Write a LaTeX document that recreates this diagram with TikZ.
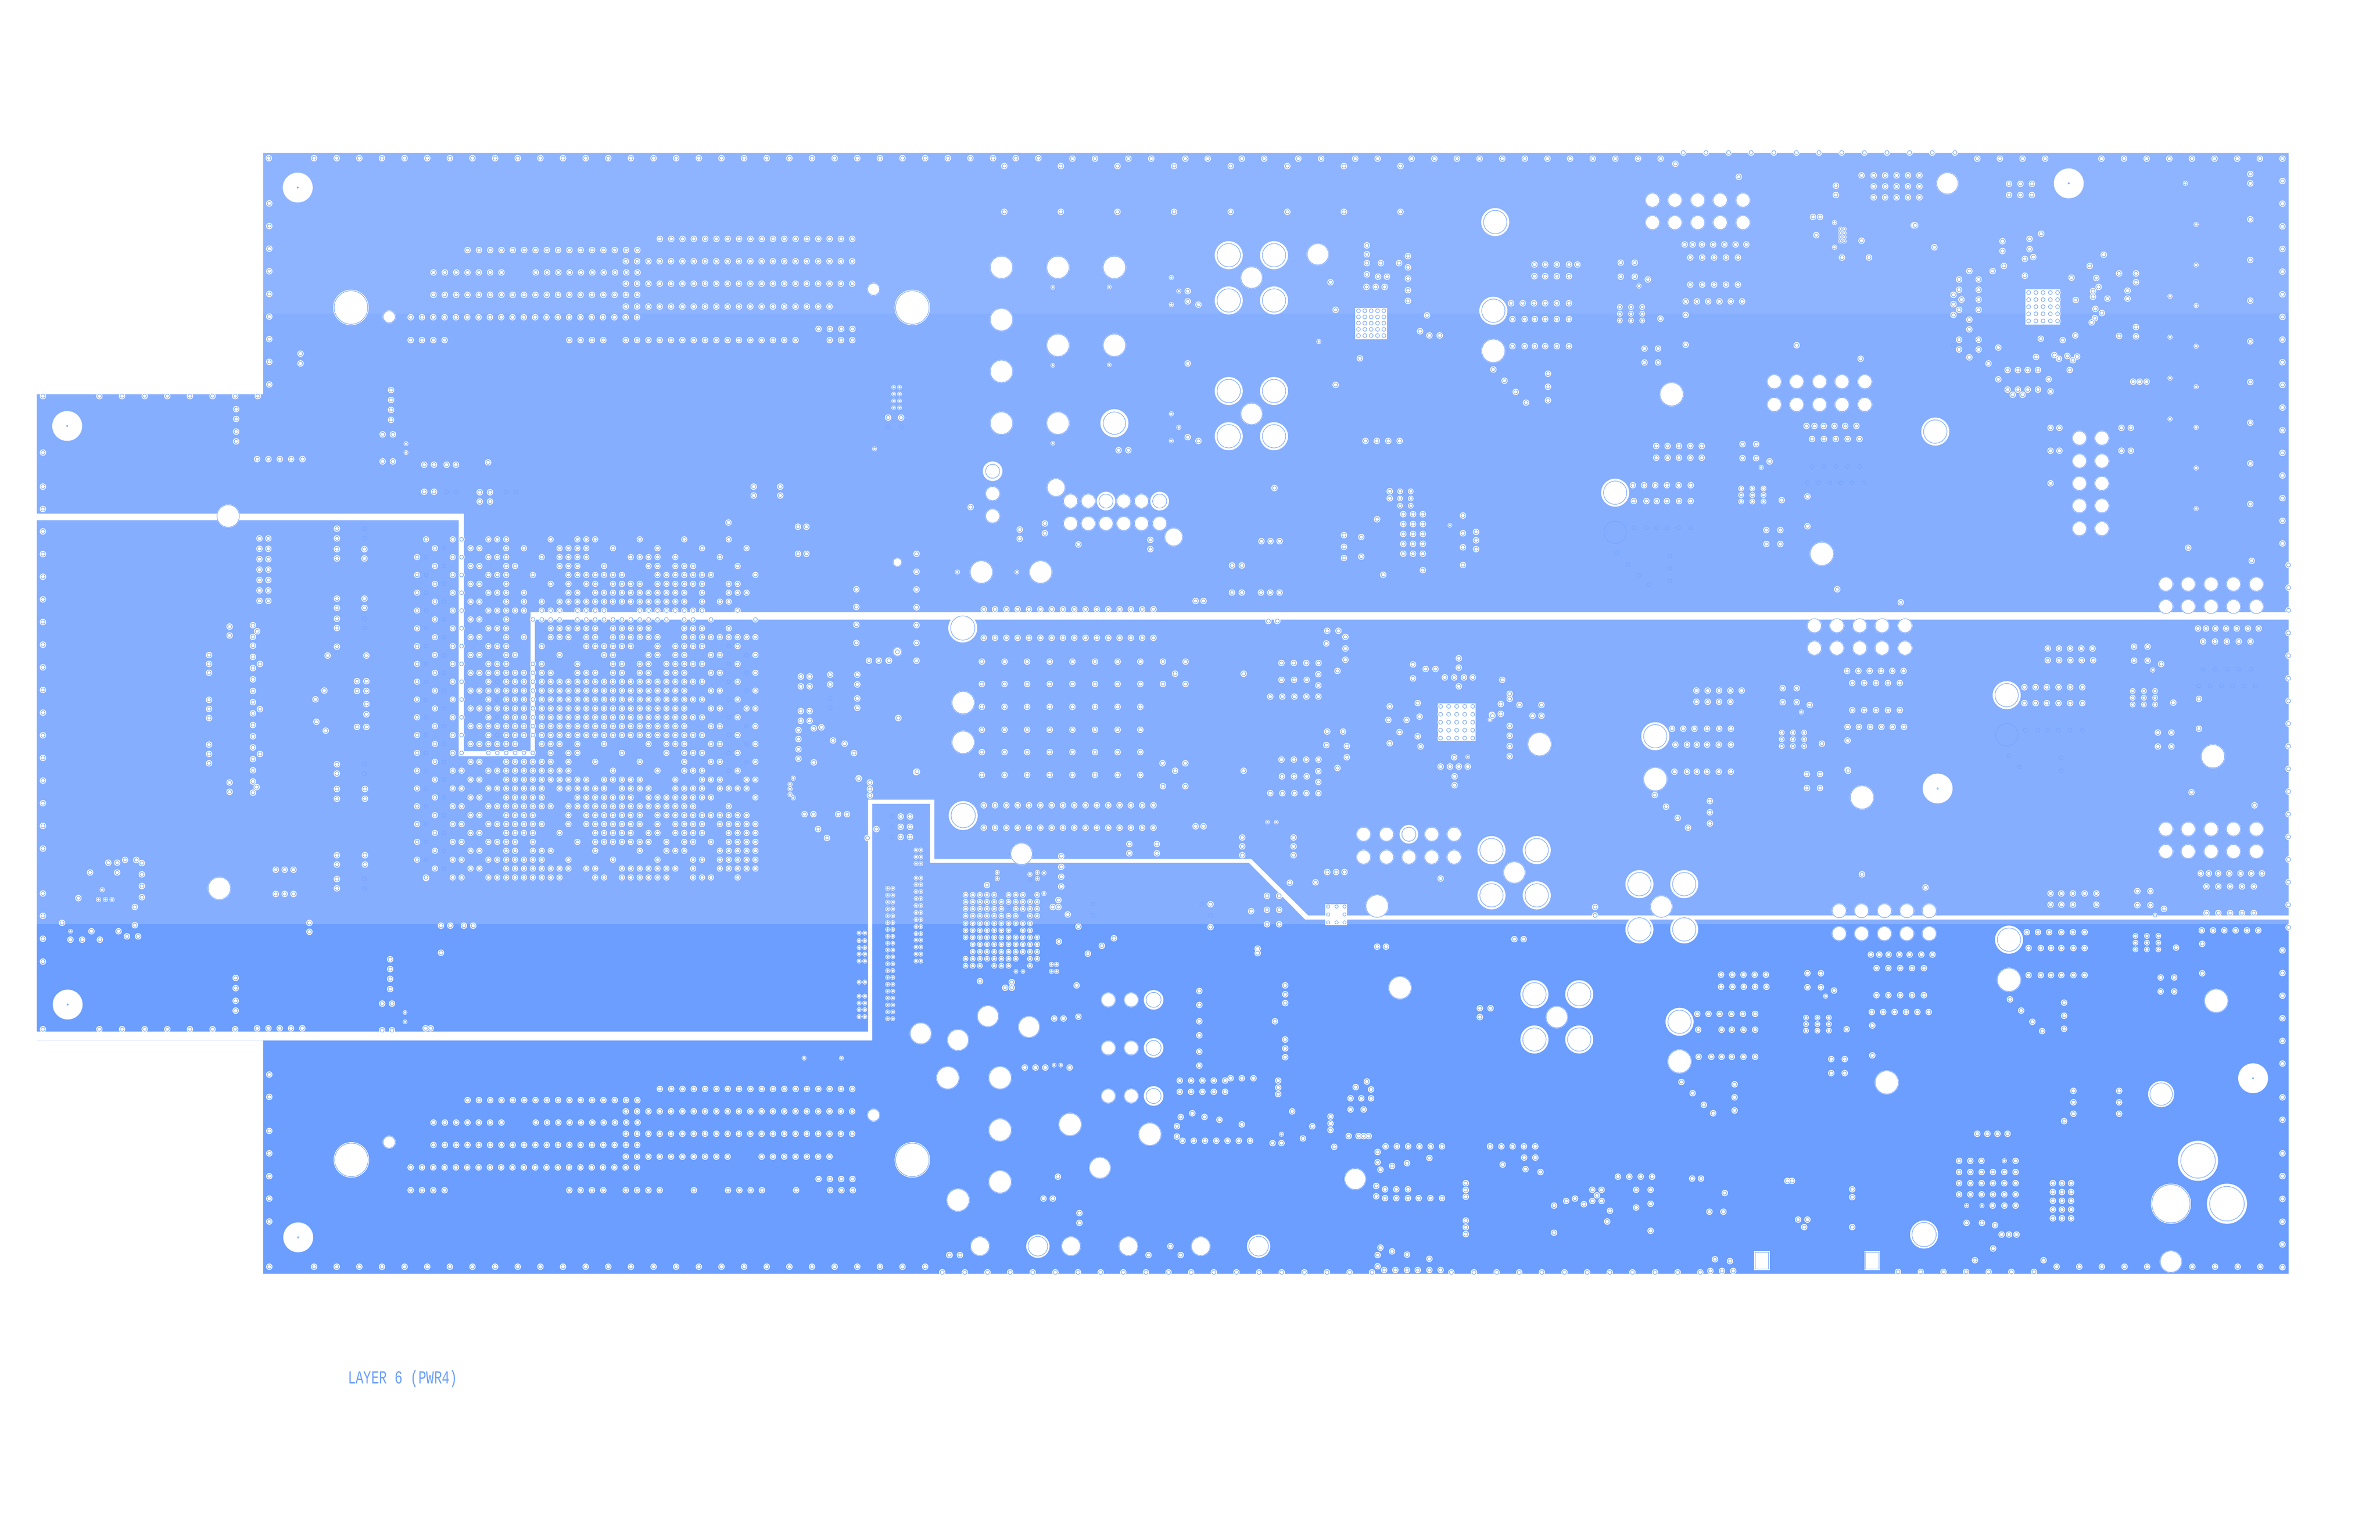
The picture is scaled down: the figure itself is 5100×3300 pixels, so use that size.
\documentclass[tikz,border=0pt]{standalone}
\usepackage{fontspec}
\newfontfamily\layerfont[FakeStretch=0.71]{Liberation Mono}
\definecolor{bandtop}{HTML}{8FB4FF}
\definecolor{bandmid}{HTML}{86AEFF}
\definecolor{bandlow}{HTML}{6B9EFF}
\definecolor{ringblue}{HTML}{6F9FFF}
\definecolor{ghostblue}{HTML}{74A3FF}
\tikzset{
  padwhite/.style={fill=white},
  padring/.style={draw=ringblue,line width=0.3pt},
  ghostring/.style={draw=ghostblue,line width=0.3pt},
  layerlabel/.style={text=bandlow,anchor=west,inner sep=0pt,font=\layerfont\fontsize{11.2}{12}\selectfont}
}
% one pad: outer radius, ring radius, point
\newcommand{\padat}[3]{\fill[padwhite] #3 circle (#1); \draw[padring] #3 circle (#2);}
\newcommand{\vias}[2][6.8]{\foreach \p in {#2} {\padat{#1}{#1*0.65}{\p}}}
\newcommand{\holes}[3]{\foreach \p in {#3} {\padat{#1}{#2}{\p}}}
\newcommand{\ghosts}[2][4.4]{\foreach \p in {#2} {\draw[ghostring] \p circle (#1);}}
% x0, y0, dx, dy, nx, ny
\newcommand{\viagrid}[7][6.8]{\foreach \kx in {1,...,#6} {\foreach \ky in {1,...,#7} {
  \padat{#1}{#1*0.65}{({#2+(\kx-1)*#4},{#3+(\ky-1)*#5})}}}}
\newcommand{\viarow}[5][6.8]{\viagrid[#1]{#2}{#3}{#4}{0}{#5}{1}}
\newcommand{\viacol}[5][6.8]{\viagrid[#1]{#2}{#3}{0}{#4}{1}{#5}}
\begin{document}
\begin{tikzpicture}[x=0.01cm,y=-0.01cm]
\useasboundingbox (0,0) rectangle (5100,3300);
\fill[white] (0,0) rectangle (5100,3300);

% copper bands
\fill[bandtop] (564,327) rectangle (4904,672);
\fill[bandmid] (564,672) -- (4904,672) -- (4904,1981) -- (79,1981) -- (79,845) -- (564,845) -- cycle;
\fill[bandlow] (79,1981) -- (4904,1981) -- (4904,2730) -- (564,2730) -- (564,2230) -- (79,2230) -- (79,2211) -- cycle;
\fill[white] (79,2211) rectangle (564,2230);

% splits
\fill[white] (79,1101) -- (994,1101) -- (994,1610) -- (1137,1610) -- (1137,1312) -- (4904,1312) -- (4904,1328)
  -- (1146,1328) -- (1146,1621) -- (983,1621) -- (983,1115) -- (79,1115) -- cycle;
\fill[white] (79,2211) -- (1860,2211) -- (1860,1714) -- (2002,1714) -- (2002,1841) -- (2681,1841) -- (2803,1962)
  -- (4904,1962) -- (4904,1971) -- (2797,1971) -- (2676,1849) -- (1993,1849) -- (1993,1723) -- (1869,1723)
  -- (1869,2230) -- (79,2230) -- cycle;

% edge stitching
\vias{(576,339)}
\viarow{673}{339}{48.5}{33}
\viarow{2298}{340}{48.5}{2}
\vias{(2418,340),(2467,340),(2540,340),(2588,340),(2661,340),(2709,340),(2782,340),(2831,340),(2904,340),(2952,340)}
\viarow{3025}{340}{48.5}{12}
\vias{(3590,351)}
\viarow{3607}{327}{48.5}{13}
\viarow{4237}{340}{48.5}{4}
\viarow{4503}{340}{48.5}{9}
\viacol{4891}{388}{48.55}{17}
\viacol{4904}{1211}{48.55}{17}
\viacol{4891}{2037}{48.5}{6}
\vias{(4891,2352),(4891,2400)}
\viacol{4891}{2472}{48.8}{6}
\viarow{4407}{2715}{48.5}{5}
\viarow{4698}{2715}{48.5}{4}
\viarow{4116}{2726}{48.5}{6}
\vias{(4067,2726)}
\viarow{3110}{2727}{48.5}{12}
\viarow{2019}{2727}{48.5}{19}
\vias{(2940,2727),(2952,2714),(2966,2722),(2990,2722),(3015,2722),(3038,2722),(3063,2722),(3087,2722)}
\vias{(3665,2724),(3690,2724),(3714,2724),(3675,2699),(3707,2703)}
\vias{(577,2715)}
\viarow{673}{2715}{48.5}{28}
\viacol{577}{436}{48.5}{9}
\vias{(577,2303),(577,2351),(577,2424),(577,2472),(577,2521),(577,2569),(577,2618),(2035,2690)}
\vias{(92,849)}
\viarow{213}{849}{48.5}{8}
\vias{(92,970),(92,1043),(92,1091)}
\viacol{92}{1139}{48.55}{15}
\vias{(92,1915),(92,1963),(92,2012),(92,2061),(92,2206)}
\viarow{213}{2206}{48.5}{7}
\viarow{551}{2204}{24.2}{5}
\vias{(819,2208),(840,2208),(912,2204),(923,2204)}

% mounting holes
\foreach \p in {(638,402),(144,913),(145,2153),(639,2652),(4433,393),(4828,2311),(4152,1690)} {
  \fill[white] \p circle (32); \draw[padring] \p circle (1.6);
}
\holes{38}{36}{(752,659),(1955,659),(753,2486),(1955,2486)}
\holes{14}{13}{(834,679),(1872,620),(834,2448),(1872,2390)}
\holes{25}{24}{(489,1106),(470,1904)}
\holes{10}{9}{(1923,1205),(1923,1397)}

% left connector rows, top and bottom
\foreach \dy in {0,1822} {
  \viarow{1414}{512+\dy}{24.25}{18}
  \viarow{1002}{536+\dy}{24.25}{16}
  \viarow{1341}{560+\dy}{24.25}{21}
  \viarow{929}{584+\dy}{24.25}{7}
  \viarow{1148}{584+\dy}{24.25}{10}
  \viarow{1341}{608+\dy}{24.25}{21}
  \viarow{929}{632+\dy}{24.25}{19}
  \viarow{880}{680+\dy}{24.25}{21}
  \viarow{1754}{705+\dy}{24.25}{4}
  \viarow{880}{729+\dy}{24.25}{4}
  \viarow{1220}{729+\dy}{24.25}{4}
}
\viarow{1341}{657}{24.25}{19}
\viarow{1341}{2479}{24.25}{10}
\viarow{1632}{2479}{24.25}{7}
\viarow{1341}{729}{24.25}{16}
\viarow{1778}{729}{24.25}{3}
\viarow{1341}{2551}{24.25}{4}
\vias{(1487,2551)}
\viarow{1560}{2551}{24.25}{4}
\vias{(1706,2551)}
\viarow{1779}{2551}{24.25}{3}
\vias[5.2]{(1723,2268),(1803,2268)}
\vias{(644,758),(644,779)}

% left side scatter
\viacol{838}{836}{21.3}{4}
\vias{(820,931),(842,931),(820,989),(842,989),(506,877),(506,898),(506,925),(506,946)}
\vias[5.2]{(870,951),(870,970)}
\viarow{551}{984}{24.3}{5}
\vias{(909,996),(930,996),(957,996),(977,996),(1046,991),(909,1054),(930,1054)}
\vias{(1028,1055),(1050,1055),(1028,1075),(1050,1075)}
\ghosts{(957,1054),(977,1054),(1084,1054),(1105,1054)}
\vias{(1615,1043),(1672,1043),(1615,1062),(1672,1062),(1561,1120),(1710,1129),(1728,1129),(1710,1187),(1728,1187)}
\viagrid[5]{1915}{830}{12.5}{14.7}{2}{4}
\vias{(1903,895),(1931,895)}
\ghosts{(1903,915),(1931,915)}
\vias[5.2]{(1874,962)}

\viacol{1964}{1187}{38.2}{7}
\vias{(1964,1654),(1835,1263),(1835,1301),(1835,1339),(1835,1378),(1862,1416),(1883,1416),(1904,1416),(1905,1416)}
\vias[5.2]{(2052,1226),(2051,1226),(2179,1226)}

\viagrid{556}{1154}{19}{22.3}{2}{7}
\viacol{448}{1404}{19}{3}
\viacol{448}{1500}{19.5}{3}
\viacol{448}{1596}{20}{3}
\vias{(492,1343),(492,1362),(542,1340),(551,1353),(542,1365),(542,1384),(542,1408),(557,1423),(542,1432)}
\vias{(542,1456),(542,1481),(542,1505),(557,1520),(542,1529),(542,1554),(542,1578),(542,1602),(557,1616),(542,1627)}
\vias{(542,1651),(542,1675),(550,1687),(542,1699),(492,1677),(492,1697)}
\vias{(722,1133),(722,1154),(722,1177),(722,1197),(781,1177),(781,1197),(722,1283),(722,1303),(781,1283),(781,1303)}
\vias{(722,1326),(722,1346),(722,1386),(702,1405),(785,1405),(765,1460),(785,1460),(695,1480),(765,1481),(785,1481)}
\vias{(676,1499),(785,1509),(785,1531),(678,1547),(698,1566),(765,1558),(785,1558)}
\vias{(722,1638),(722,1658),(722,1691),(782,1691),(722,1712),(782,1712),(722,1833),(782,1833),(722,1853),(782,1853),(722,1884),(722,1904)}
\ghosts{(781,1133),(781,1154),(781,1326),(781,1346),(781,1638),(781,1658),(781,1884),(781,1904)}
\vias{(591,1864),(610,1864),(629,1864),(591,1916),(610,1916),(629,1916),(663,1978),(663,1997)}
\vias{(945,1984),(965,1984),(994,1984),(1014,1984),(913,1882),(945,2042)}
\vias{(232,1849),(251,1849),(268,1843),(292,1843),(304,1850),(193,1870),(251,1870),(304,1874),(304,1899),(304,1923)}
\vias[5.5]{(219,1907),(211,1928),(226,1928),(240,1928)}
\vias{(168,1925),(289,1944),(289,1983),(133,1978),(196,1996),(254,1996),(272,2007),(296,2007),(151,2014),(176,2014),(214,2014)}
\vias[5]{(151,1996)}
\vias{(505,2096),(505,2118),(505,2145),(505,2166),(836,2056),(836,2077),(836,2098),(836,2120),(819,2151),(840,2151)}
\vias[5]{(868,2170),(868,2190)}

% big pinfield
\foreach \j in {2,4,...,36} {
  \foreach \i in {0,4,5} {\padat{6.5}{4.2}{({893.8+19.08*\i},{1156+19.07*\j})}}
  \draw[ghostring] ({893.8+19.08},{1156+19.07*\j}) circle (4.2);
}
\foreach \j in {1,3,...,37} {
  \foreach \i in {2,6,7} {\padat{6.5}{4.2}{({893.8+19.08*\i},{1156+19.07*\j})}}
  \draw[ghostring] ({893.8+19.08*3},{1156+19.07*\j}) circle (4.2);
}
\foreach \j in {0,38} {
  \foreach \i in {1,4,5} {\padat{6.5}{4.2}{({893.8+19.08*\i},{1156+19.07*\j})}}
}
\foreach \j/\i in {12/35,14/35,16/35,18/35,20/35,22/35,24/35,26/35,13/37,15/37,17/37,21/37,23/37,25/37,16/9,18/9,20/9,22/9} {
  \draw[ghostring] ({893.8+19.08*\i},{1156+19.07*\j}) circle (4.2);
}
\foreach \j/\segs in {
  0/{8/10,15/15,18/20,25/25,30/30,35/35},
  1/{10/10,12/12,16/19,22/22,27/27,32/32,37/37},
  2/{8/10,14/14,16/19,24/27,29/29,34/34},
  3/{10/11,16/18,21/21,26/27,29/31,36/36},
  4/{8/10,13/13,17/23,27/33,38/38},
  5/{10/10,15/15,17/17,19/20,22/25,27/32,35/36},
  6/{8/10,12/12,17/18,20/30,32/32,35/37},
  7/{10/10,12/12,14/14,16/30,32/32,34/35},
  8/{8/12,14/16,18/21,25/32,36/36},
  9/{10/10,13/16,18/28,30/31,33/33,38/38},
  10/{8/10,15/20,22/26,30/32,35/35},
  11/{10/10,12/12,15/17,19/20,22/27,30/38},
  12/{8/10,14/14,19/24,27/27,29/32,36/36},
  13/{10/11,16/16,21/22,26/27,29/30,33/34,38/38},
  14/{8/10,13/14,18/18,22/23,25/26,28/32,36/36},
  15/{8/15,18/20,22/23,25/26,28/30,33/34,38/38},
  16/{8/8,10/32,36/36},
  17/{8/30,33/34,38/38},
  18/{8/8,10/32,36/36},
  19/{8/30,33/34,37/38},
  20/{8/8,10/32,36/36},
  21/{8/30,33/34,38/38},
  22/{8/8,10/32,36/36},
  23/{8/11,14/16,18/18,21/21,26/26,28/30,33/34,38/38},
  24/{8/13,15/15,17/18,23/23,28/28,30/32,36/36},
  25/{10/15,17/17,20/20,25/25,30/30,33/34,38/38},
  26/{8/17,22/22,27/27,30/32,36/36},
  27/{10/19,21/25,29/29,32/34,37/38},
  28/{8/14,16/21,23/26,29/32,34/37},
  29/{10/14,18/24,26/33,38/38},
  30/{8/15,17/31,35/35},
  31/{10/13,17/17,19/25,27/37},
  32/{8/14,17/17,19/25,27/27,29/32,34/38},
  33/{10/13,16/16,20/24,26/27,29/32,35/38},
  34/{8/11,13/13,18/18,20/26,28/28,30/31,33/33,35/38},
  35/{10/11,13/15,20/20,25/25,28/30,34/38},
  36/{8/14,17/17,22/22,27/27,31/32,34/38},
  37/{10/17,19/20,23/29,31/31,34/38},
  38/{8/16,20/21,23/28,31/33,36/36}} {
  \foreach \ia/\ib in \segs {
    \foreach \i in {\ia,...,\ib} {\padat{6.5}{4.2}{({893.8+19.08*\i},{1156+19.07*\j})}}
  }
}

% right of pinfield
\vias{(1716,1450),(1735,1450),(1716,1471),(1735,1471),(1779,1446),(1837,1446),(1779,1467),(1837,1467),(1837,1497),(1837,1517)}
\ghosts{(1779,1497),(1779,1517)}
\vias{(1716,1524),(1735,1524),(1716,1545),(1735,1545),(1744,1561),(1760,1559),(1711,1565),(1711,1584),(1711,1606),(1711,1626)}
\vias{(1785,1587),(1810,1594),(1830,1614),(1744,1634),(1925,1539),(1724,1745),(1743,1745),(1796,1745),(1815,1745),(1753,1777),(1772,1796),(1840,1668)}
\vias[5.5]{(1700,1668),(1693,1681),(1693,1691),(1693,1703),(1700,1710)}
\vias{(1840,1669),(1864,1677),(1864,1691),(1864,1705),(1878,1777),(1859,1796),(1963,1655),(1965,1654)}
\viagrid{1930}{1750}{20}{22}{2}{3}
\ghosts{(1911,1750),(1911,1772),(1911,1794)}

% columns beside the split
\foreach \y in {1822,1837,1851,1882,1896,1911,1926,1941,1956,1971,1986,2001,2015,2030,2045,2060} {
  \viarow[5.2]{1963}{\y}{10}{2}
}
\viagrid[5.2]{1902}{1904}{11}{14.7}{2}{20}
\foreach \y in {2000,2016,2031,2045,2060,2105,2135,2150,2164,2179} {
  \viarow[5.2]{1841}{\y}{12}{2}
}

% power pads, top middle
\holes{25}{24}{(2146,573),(2267,573),(2388,573),(2146,685),(2146,796),(2146,907),(2267,740),(2388,740),(2267,907)}
\holes{30}{24}{(2388,907)}
\vias[5]{(2256,616),(2377,615),(2256,783),(2377,782),(2256,950)}
\holes{30}{25}{(2633,547),(2730,547),(2633,644),(2730,644),(2633,838),(2730,838),(2633,935),(2730,935)}
\holes{24}{23}{(2682,595),(2682,887),(2824,545)}
\vias[5.5]{(2510,595),(2526,624),(2510,653),(2510,887),(2526,916),(2510,945)}
\vias{(2545,624),(2545,646),(2568,653),(2545,937),(2568,945),(2397,965),(2418,965)}
\vias{(2851,605),(2862,664),(2914,768),(2545,779),(2862,825)}
\vias[5.5]{(2826,732)}
\viarow{2152}{356}{121.3}{8}
\viarow{2152}{454}{121.3}{8}
\vias{(2929,526),(2929,545),(2929,564),(2959,564),(2998,564),(3017,549),(3017,573),(3017,597),(3017,622),(3017,645)}
\vias{(2929,588),(2953,593),(2972,593),(2928,615),(2948,615),(2967,615)}
\fill[white] (2904,660) rectangle (2972,727);
\viagrid[6.5]{2911}{666}{13.6}{13.3}{5}{5}
\vias{(3058,676),(3043,710),(3063,719),(3085,719),(2731,1046)}
\viarow{2926}{945}{24.4}{4}
\viagrid[6]{3000}{1053}{23}{15.5}{2}{3}
\vias{(2978,1053),(2978,1068)}
\viagrid{3007}{1102}{21}{21.2}{3}{5}
\vias{(2951,1113),(3135,1105),(3135,1143),(3135,1173),(3163,1140),(3163,1158),(3163,1177),(3135,1211),(3049,1222),(2964,1232)}
\vias[5]{(3107,1126)}
\vias{(2880,1147),(2880,1172),(2880,1196),(2917,1151),(2917,1193)}
\viarow{2703}{1160}{19.5}{3}
\vias{(2640,1212),(2661,1212),(2640,1270),(2661,1270),(2702,1270),(2722,1270),(2742,1270),(2562,1288),(2579,1288)}
\vias{(2185,1135),(2185,1155),(2239,1122),(2239,1143),(2311,1167),(2465,1157),(2465,1177),(2080,1087)}
\holes{21}{15}{(2127,1010)}
\holes{16}{15}{(2127,1058),(2127,1106)}
\holes{20}{19}{(2263,1045),(2515,1151)}
\holes{16}{15}{(2294,1074),(2332,1074),(2408,1074),(2446,1074),(2294,1122),(2332,1122),(2370,1122),(2408,1122),(2446,1122),(2485,1122)}
\holes{20}{15}{(2370,1074),(2485,1074)}
\holes{25}{24}{(2103,1226),(2230,1226)}
\holes{31}{26}{(2063,1346),(2064,1748)}
\viarow{2108}{1306}{24.25}{16}
\viarow{2108}{1367}{24.25}{16}
\vias{(2718,1331),(2737,1331),(2844,1352),(2868,1352),(2883,1365),(2883,1390),(2883,1414),(2842,1379),(2866,1438)}
\viarow{2104}{1418}{48.5}{10}
\viarow{2104}{1466}{48.5}{10}
\viarow{2104}{1515}{48.5}{8}
\viarow{2104}{1564}{48.5}{8}
\viarow{2104}{1612}{48.5}{8}
\viarow{2104}{1661}{48.5}{8}
\vias{(2518,1444),(2491,1636),(2540,1636),(2518,1652),(2665,1444),(2665,1652)}
\holes{25}{24}{(2064,1506),(2064,1591)}
\vias{(1925,1539),(1923,1397),(1905,1416)}
\viarow{2746}{1421}{26.5}{4}
\vias{(2825,1445),(2746,1457),(2773,1457),(2800,1457),(2825,1469)}
\viarow{2722}{1493}{25.8}{5}
\vias{(2844,1568),(2878,1568),(2842,1597),(2886,1599),(2886,1623),(2866,1646)}
\viarow{2746}{1628}{26.5}{4}
\vias{(2825,1653),(2747,1664),(2773,1664),(2800,1664),(2825,1676)}
\viarow{2722}{1700}{25.8}{5}

% first hub
\vias{(2978,1514),(3038,1507),(2975,1543),(3014,1543),(3042,1536),(2999,1569),(3038,1578),(2978,1593),(3044,1600)}
\fill[white] (3081,1508) rectangle (3162,1588);
\viagrid[6.5]{3087}{1514}{17.2}{17}{5}{5}
\vias{(3028,1424),(3028,1454),(3055,1434),(3076,1434),(3126,1411),(3126,1431),(3126,1471),(3096,1452),(3116,1452),(3137,1452),(3156,1452)}
\vias{(3116,1623),(3087,1643),(3107,1643),(3126,1643),(3145,1643),(3197,1532)}
\vias[5]{(3145,1622),(3193,1543)}
\vias{(3117,1664),(3117,1683)}

% top row of modules
\holes{30}{25}{(3204,476),(3200,666)}
\holes{26}{25}{(3200,752)}
\vias{(3238,650),(3263,650),(3287,650),(3311,650),(3336,650),(3362,650)}
\foreach \y in {684,742} {\vias{(3241,\y),(3267,\y),(3289,\y),(3311,\y),(3336,\y),(3362,\y)}}
\vias{(3288,567),(3311,567),(3336,567),(3362,567),(3380,567),(3288,592),(3311,592),(3336,592),(3362,592)}
\vias{(3200,792),(3224,816),(3248,840),(3270,863),(3317,801),(3317,829),(3317,858)}
\vias{(3473,563),(3503,563),(3473,593),(3503,593),(3531,599)}
\vias[5.5]{(3512,613)}
\viagrid[6]{3471}{658}{24}{14.5}{3}{3}
\vias{(3558,683),(3726,379)}
\foreach \y in {429,477} {\holes{16}{15}{(3541,\y),(3589,\y),(3638,\y),(3686,\y),(3735,\y)}}
\vias{(3610,524),(3627,524),(3647,524),(3671,524),(3695,524),(3719,524),(3742,524)}
\viarow{3622}{552}{25.5}{5}
\viarow{3622}{610}{25.5}{5}
\viarow{3612}{646}{24.2}{6}
\vias{(3612,675),(3612,739),(3524,747),(3553,747),(3524,777),(3553,777)}
\holes{26}{25}{(3582,845),(3904,1187),(3299,1595),(4742,1621),(4749,2145)}
\vias{(3934,398),(3934,418),(3885,465),(3900,465),(3892,504),(3947,552),(4005,552),(3989,516),(4101,483),(4145,530),(3989,376)}
\vias[5.5]{(3931,477),(3931,530)}
\viagrid[5]{3944}{491}{8}{8.7}{2}{4}
\viagrid{4015}{376}{24.5}{23.5}{5}{3}
\holes{24}{23}{(4173,393)}
\viagrid{4305}{394}{24.5}{24}{3}{2}
\vias[5.5]{(4683,393)}
\viacol{4822}{373}{20}{2}
\viacol{4822}{470}{87.2}{8}
\viacol[5.5]{4706}{481}{87}{8}
\viacol[5.5]{4650}{635}{87.7}{4}
\vias{(4689,1174),(4825,1202)}

% second hub
\vias{(4104,483),(4145,530),(4291,517),(4291,538),(4349,512),(4349,534),(4374,501),(4339,555),(4357,551),(4294,570),(4270,581),(4220,581)}
\vias{(4198,599),(4198,621),(4203,642),(4198,664),(4186,632),(4186,652),(4186,675),(4240,599),(4240,621),(4240,642),(4240,664)}
\vias{(4220,685),(4220,706),(4198,728),(4198,749),(4240,728),(4240,749),(4220,766),(4261,779),(4282,745),(4282,813),(4339,591)}
\fill[white] (4340,620) rectangle (4415,696);
\viagrid[6.5]{4347}{627}{15.5}{15.2}{5}{5}
\vias{(4302,793),(4324,793),(4345,793),(4367,793),(4302,835),(4324,835),(4345,835),(4367,835),(4313,846),(4334,846),(4363,765)}
\vias{(4390,813),(4394,839),(4373,726),(4420,729),(4447,719),(4435,793),(4402,761),(4412,769),(4430,763),(4442,772),(4451,764),(4448,643),(4439,595)}
\vias{(4478,570),(4508,546),(4492,596),(4497,615),(4485,624),(4485,636),(4516,640),(4490,662),(4504,671),(4489,682),(4482,691)}
\vias{(4541,586),(4577,586),(4577,605),(4559,623),(4559,640),(4577,701),(4577,721),(4541,720),(4571,818),(4585,818),(4600,818)}
\ghosts{(4185,740)}
\foreach \y in {939,988,1036,1084,1133} {\holes{16}{15}{(4456,\y),(4504,\y)}}
\vias{(4394,917),(4413,917),(4394,966),(4413,966),(4394,1036),(4546,917),(4566,917),(4546,966),(4566,966)}
\holes{30}{25}{(4147,925),(3461,1056),(3547,1578),(4300,1490),(3599,2190),(4305,2014)}

% module one
\vias{(3850,740),(3987,769)}
\foreach \y in {818,867} {\holes{16}{15}{(3802,\y),(3850,\y),(3899,\y),(3947,\y),(3996,\y)}}
\vias{(3871,913),(3888,913),(3908,913),(3931,913),(3954,913),(3978,913)}
\viarow{3883}{941}{25.4}{5}
\ghosts{(3883,1000),(3908,1000),(3934,1000),(3959,1000),(3985,1000),(3873,1035),(3897,1035),(3921,1035),(3945,1035),(3969,1035),(3994,1035)}
\vias{(3873,1064),(3873,1128),(3937,1263),(4073,1291)}
\viarow{3549}{956}{24.4}{5}
\viarow{3549}{981}{24.4}{5}
\vias{(3734,952),(3763,952),(3734,982),(3763,982),(3792,989),(3785,1136),(3815,1136),(3785,1166),(3815,1166),(3818,1072)}
\vias[5.5]{(3774,1002)}
\viagrid[6]{3731}{1047}{24}{14}{3}{3}
\vias{(3499,1040),(3523,1040),(3547,1040),(3572,1040),(3597,1040),(3623,1040),(3501,1074),(3528,1074),(3550,1074),(3572,1074),(3598,1074),(3623,1074)}
\ghosts[24]{(3461,1141)}
\ghosts{(3501,1131),(3528,1131),(3550,1131),(3572,1131),(3597,1131),(3623,1131)}
\ghosts{(3464,1185),(3488,1210),(3512,1234),(3534,1253),(3578,1192),(3578,1218),(3578,1245)}

% module two
\foreach \y in {1341,1389} {\holes{16}{15}{(3888,\y),(3936,\y),(3985,\y),(4033,\y),(4082,\y)}}
\viarow{3958}{1438}{24.2}{6}
\viarow{3969}{1464}{25.5}{5}
\viarow{3969}{1522}{25.5}{5}
\viarow{3959}{1558}{24.2}{6}
\vias{(3959,1587),(3959,1650)}
\viarow{3635}{1480}{24.3}{5}
\viarow{3635}{1504}{24.3}{4}
\vias{(3820,1475),(3850,1475),(3820,1505),(3850,1505),(3878,1511),(3904,1594)}
\vias[5.5]{(3860,1526)}
\viagrid[6]{3818}{1570}{24}{14.5}{3}{3}
\holes{26}{25}{(3547,1670)}
\vias{(3583,1562),(3607,1562),(3631,1562),(3658,1562),(3684,1562),(3709,1562),(3590,1596),(3615,1596),(3636,1596),(3658,1596),(3683,1596),(3709,1596)}
\vias{(3588,1654),(3615,1654),(3636,1654),(3658,1654),(3683,1654),(3709,1654)}
\vias{(3219,1457),(3235,1487),(3235,1498),(3216,1509),(3216,1530),(3256,1511),(3303,1511),(3284,1534),(3303,1534),(3198,1534),(3235,1556),(3235,1577),(3235,1599),(3235,1621)}
\vias{(3546,1704),(3570,1729),(3595,1753),(3617,1774),(3664,1717),(3664,1741),(3664,1765)}
\holes{26}{25}{(3990,1709)}
\vias{(3872,1659),(3900,1659),(3872,1689),(3900,1689),(3960,1652),(3990,1874)}

% module three, right side
\vias{(4710,1347),(4727,1347),(4747,1347),(4770,1347),(4793,1347),(4817,1347),(4840,1347)}
\viarow{4721}{1375}{25.4}{5}
\ghosts{(4721,1434),(4747,1434),(4773,1434),(4798,1434),(4823,1434),(4711,1470),(4736,1470),(4760,1470),(4784,1470),(4809,1470),(4833,1470)}
\vias{(4712,1498),(4712,1562)}
\viarow{4388}{1390}{24}{5}
\viarow{4388}{1415}{24.3}{5}
\vias{(4573,1386),(4602,1386),(4573,1416),(4602,1416),(4631,1423),(4657,1506),(4624,1570),(4653,1570),(4624,1600),(4653,1600)}
\vias[5.5]{(4613,1436)}
\viagrid[6]{4570}{1481}{24}{14.5}{3}{3}
\foreach \y in {1473,1507} {\vias{(4338,\y),(4362,\y),(4386,\y),(4411,\y),(4436,\y),(4462,\y)}}
\ghosts[24]{(4300,1575)}
\ghosts{(4340,1565),(4367,1565),(4388,1565),(4411,1565),(4436,1565),(4462,1565),(4304,1619),(4328,1644),(4417,1624),(4417,1652)}
\foreach \y in {1252,1300,1777,1825} {\holes{16}{15}{(4641,\y),(4689,\y),(4738,\y),(4786,\y),(4835,\y)}}
\vias{(4696,1698),(4831,1726)}
\vias{(4716,1872),(4733,1872),(4753,1872),(4777,1872),(4801,1872),(4824,1872),(4847,1872)}
\viarow{4728}{1900}{25.4}{5}
\viarow{4728}{1957}{25.4}{5}
\viarow{4718}{1994}{24.2}{6}
\vias{(4719,2023),(4719,2086)}
\vias{(4394,1915),(4417,1915),(4442,1915),(4467,1915),(4492,1915),(4394,1939),(4417,1939),(4442,1939),(4492,1939)}
\vias{(4580,1910),(4608,1910),(4580,1940),(4608,1940),(4637,1948),(4663,2031),(4630,2095),(4659,2095),(4630,2125),(4659,2125)}
\vias[5.5]{(4618,1962)}
\viagrid[6]{4576}{2006}{24.5}{14.5}{3}{3}
\vias{(4343,1998),(4367,1998),(4391,1998),(4417,1998),(4442,1998),(4467,1998)}
\foreach \y in {2032,2090} {\vias{(4347,\y),(4373,\y),(4395,\y),(4417,\y),(4443,\y),(4467,\y)}}
\holes{26}{25}{(4305,2100),(3599,2275),(4043,2320)}
\vias{(4307,2142),(4331,2166),(4355,2190),(4376,2210),(4423,2149),(4423,2177),(4423,2205),(4126,1902)}
\foreach \y in {1952,2001} {\holes{16}{15}{(3941,\y),(3989,\y),(4038,\y),(4086,\y),(4134,\y)}}
\vias{(4009,2046),(4027,2046),(4047,2046),(4070,2046),(4092,2046),(4117,2046),(4141,2046)}
\viarow{4021}{2075}{25.4}{5}
\viarow{4021}{2133}{25.4}{5}
\viarow{4011}{2169}{24.4}{6}
\vias{(4012,2198),(4012,2262)}
\viarow{3688}{2089}{24}{5}
\viarow{3688}{2115}{24.3}{5}
\vias{(3873,2086),(3902,2086),(3873,2116),(3902,2116),(3930,2123),(3957,2206),(3924,2270),(3953,2270),(3924,2300),(3953,2300)}
\vias[5.5]{(3912,2135)}
\viagrid[6]{3870}{2181}{24.5}{14}{3}{3}
\vias{(3637,2173),(3661,2173),(3685,2173),(3710,2173),(3735,2173),(3761,2173),(3639,2207),(3689,2207),(3711,2207),(3736,2207),(3761,2207)}
\vias{(3640,2265),(3667,2265),(3689,2265),(3711,2265),(3736,2265),(3761,2265)}
\vias{(3603,2319),(3627,2343),(3651,2368),(3671,2386),(3717,2324),(3717,2352),(3717,2380)}

% the three pad clusters with centre
\foreach \p in {(3196,1822),(3293,1822),(3196,1919),(3293,1919),(3513,1895),(3609,1895),(3513,1992),(3609,1992),(3288,2131),(3384,2131),(3288,2228),(3384,2228)} {
  \padat{30}{25}{\p}
}
\holes{24}{23}{(3245,1870),(3560,1943),(3336,2180)}
\holes{25}{24}{(2951,1942),(3000,2117),(2031,2310),(2143,2310),(2143,2422),(2293,2410),(2464,2431),(2143,2533),(2053,2572)}
\foreach \y in {1788,1837} {\holes{16}{15}{(2922,\y),(2971,\y),(3068,\y),(3116,\y),(3019,\y)}}
\holes{20}{15}{(3019,1788)}
\vias{(2844,1869),(2863,1869),(2881,1869),(3087,1883),(2764,1892),(2819,1891)}
\vias{(2715,1920),(2741,1920),(2715,1950),(2741,1950),(2715,1981),(2741,1981),(2681,1953)}
\fill[white] (2840,1938) rectangle (2887,1983);
\vias[5.5]{(2846,1943),(2864,1943),(2881,1943),(2846,1960),(2881,1960),(2846,1977),(2864,1977),(2881,1977)}
\viagrid{2662}{1795}{110}{19}{2}{3}
\vias[5]{(2716,1762),(2735,1762)}
\vias{(2562,1771),(2579,1771),(2492,1685),(2540,1685),(2420,1809),(2479,1809),(2420,1829),(2479,1829)}

% pads under the split
\viarow{2108}{1726}{24.25}{16}
\viarow{2108}{1774}{24.25}{16}
\holes{24}{23}{(2189,1830)}
\vias{(2274,1835),(2274,1858),(2274,1879),(2274,1900)}
\vias[5.5]{(2137,1870),(2137,1883),(2207,1874),(2223,1870),(2223,1883),(2237,1871),(2237,1915)}
\ghosts{(2207,1886)}
\vias{(2115,1897)}

% small bga
\foreach \y/\cols in {
  1918/{0,1,2,3,4,6,7,8,10},1933/{0,1,2,3,4,5,6,7,8,9,10},1948/{0,1,2,3,4,5,7,8,9,10},
  1963/{0,1,2,3,4,5,6,7,9,10},1979/{0,1,2,3,4,5,6,7,8,9},1994/{0,1,2,3,4,5,6,8,9},
  2009/{0,1,2,3,4,5,6,7,8,9,10},2024/{1,2,3,4,5,6,7,8,9,10},2040/{1,2,3,4,5,6,7,8,9,10},
  2055/{0,1,2,3,4,5,6,7,9,10},2070/{0,1,2,4,5,6,9}} {
  \foreach \i in \cols {\padat{6}{4}{({2069+15.35*\i},\y)}}
}
\vias[5]{(2177,2082),(2192,2082)}
\vias{(2268,1929),(2256,1944),(2268,1944),(2288,1960),(2311,1986),(2269,2018),(2387,2011),(2361,2027),(2331,2044)}
\viagrid[5.5]{2253}{2067}{11}{15}{2}{2}
\vias{(2307,2112),(2100,2103),(2168,2105),(2168,2117),(2154,2117)}
\ghosts{(2342,1938),(2342,1962),(2575,1938),(2594,1962)}
\vias{(2594,1938),(2594,1987)}
\holes{23.5}{22.5}{(2117,2178),(2205,2201),(1973,2215),(2053,2229),(2357,2503),(2904,2527)}
\foreach \y in {2143,2246,2349} {
  \holes{16}{15}{(2375,\y),(2424,\y)}
  \padat{21}{16}{(2472,\y)}
}
\vias{(2259,2183),(2279,2183),(2311,2179),(2196,2288),(2219,2288),(2240,2288),(2292,2288)}
\vias[5]{(2259,2283),(2273,2283)}
\vias{(2570,2124),(2570,2154),(2570,2189),(2570,2219),(2570,2254),(2570,2284)}
\vias{(2754,2112),(2754,2131),(2754,2150),(2754,2228),(2754,2247),(2754,2266),(2732,2189)}
\viarow{2528}{2316}{24.3}{5}
\viarow{2528}{2340}{24.3}{5}
\vias{(2637,2311),(2661,2311),(2686,2311),(2739,2316),(2739,2331),(2739,2345)}
\vias{(2929,2318),(2905,2330),(2938,2335),(2894,2354),(2917,2354),(2938,2354),(2894,2378),(2922,2378)}
\vias{(2951,2029),(2970,2029),(2695,2033),(2695,2043)}
\vias{(2530,2394),(2555,2386),(2581,2394),(2613,2400),(2661,2410),(2522,2414),(2522,2436),(2769,2382),(2812,2414),(2851,2393),(2851,2408),(2851,2422)}
\vias[5.5]{(2746,2431)}
\vias{(2792,2440),(2890,2435),(2911,2435),(2922,2435),(2933,2435)}
\viarow{2534}{2445}{24.1}{7}
\vias{(2727,2450),(2746,2450),(2859,2458),(2952,2469)}
\viarow{2969}{2457}{24.2}{6}
\vias{(3193,2457),(3063,2482),(3015,2493),(2952,2491),(2983,2499),(2958,2507)}
\vias{(2267,2522),(2236,2569),(2256,2569),(2313,2600),(2313,2621)}
\holes{21}{20}{(2100,2671),(2295,2671),(2418,2671),(2573,2671)}
\holes{25}{21}{(2224,2671),(2697,2671)}
\vias{(2508,2671),(2034,2690),(2057,2690),(2461,2690),(2530,2690)}
\vias{(2949,2542),(2968,2549),(2992,2549),(3017,2549),(2949,2564),(2968,2568),(2992,2568),(3017,2568),(3040,2568),(3065,2568),(3090,2568)}
\viacol{3141}{2536}{14.5}{3}
\viacol{3141}{2616}{14.5}{3}
\vias{(2958,2674),(2983,2682),(3015,2689),(2952,2690),(3063,2698)}

% lower right scatter
\viarow{3193}{2457}{24.2}{5}
\vias{(3266,2481),(3290,2481),(3220,2496),(3269,2506),(3301,2512)}
\viarow{3467}{2522}{24.4}{4}
\vias{(3506,2550),(3537,2550),(3506,2588),(3537,2580),(3537,2638)}
\vias{(3412,2550),(3432,2550),(3422,2562),(3412,2574),(3432,2574),(3375,2569),(3356,2574),(3394,2581),(3330,2584),(3450,2595),(3444,2618),(3330,2642)}
\vias{(3626,2526),(3645,2526),(3696,2557),(3663,2597),(3693,2597),(3830,2531),(3840,2531),(3969,2549),(3969,2566),(3969,2630),(3853,2614),(3873,2614),(3866,2630)}
\foreach \x in {3759,3995} {
  \fill[white] (\x,2682) rectangle ({\x+33},2722);
  \draw[padring] ({\x+2},2684) rectangle ({\x+31},2720);
}
\vias{(3245,2013),(3265,2013),(3171,2161),(3194,2161),(3171,2180),(3418,1944),(3418,1962)}
\viarow{4237}{2430}{21.6}{4}
\vias{(4198,2488),(4222,2488),(4246,2488),(4319,2488),(4270,2584),(4295,2584),(4319,2584)}
\vias[5.5]{(4295,2488),(4214,2584),(4247,2584)}
\viagrid{4198}{2512}{24.2}{24}{6}{3}
\vias{(4214,2621),(4247,2621),(4275,2626),(4289,2646),(4305,2646),(4321,2646),(4271,2676),(4232,2701),(4379,2701)}
\viagrid{4399}{2536}{19.5}{18.8}{3}{5}
\viacol{4443}{2338}{24.5}{3}
\viacol{4541}{2338}{24.5}{3}
\vias{(4423,2403)}
\holes{28}{24}{(4631,2345)}
\holes{30}{26}{(4123,2646)}
\holes{43}{37}{(4710,2488),(4772,2580)}
\holes{43}{41}{(4652,2580)}
\holes{24}{23}{(4652,2704)}

\node[layerlabel] (layername) at (745,2955) {LAYER 6 (PWR4)};
\end{tikzpicture}
\end{document}
